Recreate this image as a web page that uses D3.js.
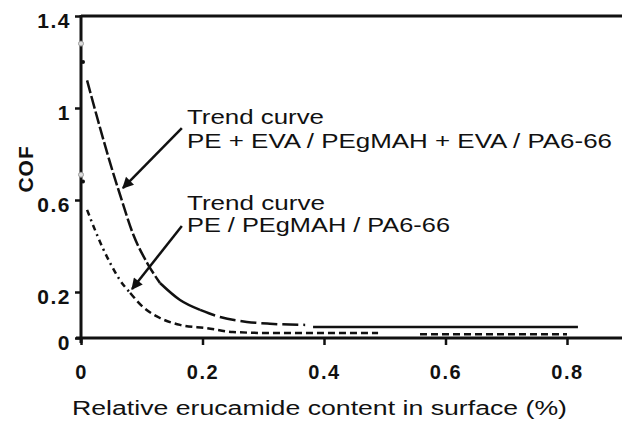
<!DOCTYPE html>
<html>
<head>
    <title>COF vs erucamide content</title>
    <script src="https://cdn.jsdelivr.net/npm/d3@7"></script>
    <style>
        body { margin: 0; background: #fff; }
        svg text { font-family: "Liberation Sans", Arial, sans-serif; fill: #111; }
    </style>
</head>
<body>
<div id="visDiv"></div>
<script>
    /* Data */
    // PE + EVA / PEgMAH + EVA / PA6-66
    var upperX = [0.01, 0.031, 0.053, 0.064, 0.086, 0.109, 0.13, 0.163, 0.196, 0.229, 0.273, 0.311, 0.369, 0.382, 0.818];
    var upperY = [1.12, 0.917, 0.717, 0.625, 0.45, 0.326, 0.239, 0.165, 0.122, 0.091, 0.07, 0.062, 0.057, 0.048, 0.048];
    // PE / PEgMAH / PA6-66 (null = gap in the curve)
    var lowerX = [0.01, 0.023, 0.035, 0.048, 0.064, 0.081, 0.102, 0.13, 0.163, 0.207, 0.25, 0.306, 0.489, null, 0.558, 0.8];
    var lowerY = [0.557, 0.47, 0.396, 0.326, 0.252, 0.196, 0.135, 0.087, 0.057, 0.043, 0.026, 0.022, 0.022, null, 0.016, 0.016];
    // small markers on the y axis
    var markGrayY = [1.28, 0.71];
    var markBlackY = [1.2, 0.68];

    var xTicks = [0, 0.2, 0.4, 0.6, 0.8];
    var xTickLabels = ["0", "0.2", "0.4", "0.6", "0.8"];
    var yTicks = [0, 0.2, 0.6, 1, 1.4];
    var yTickLabels = ["0", "0.2", "0.6", "1", "1.4"];

    var labelLines = [["Trend curve", "PE + EVA / PEgMAH + EVA / PA6-66"], ["Trend curve", "PE / PEgMAH / PA6-66"]];
    // arrows: [from x, from y, to x, to y] in data units
    var arrows = [[0.166, 0.913, 0.069, 0.652], [0.166, 0.487, 0.084, 0.213]];

    /* Layout */
    var W = 622, H = 426;
    var x = d3.scaleLinear().domain([0, 0.8]).range([81, 567]);
    var y = d3.scaleLinear().domain([0, 1.4]).range([338, 16]);

    var svg = d3.select("#visDiv").append("svg")
        .attr("width", W).attr("height", H);

    // frame: top line, y axis, x axis
    svg.append("line").attr("x1", x(0)).attr("x2", W).attr("y1", y(1.4)).attr("y2", y(1.4))
        .attr("stroke", "#111").attr("stroke-width", 3);

    var xAxis = d3.axisBottom(x).tickValues(xTicks).tickSize(7).tickPadding(20)
        .tickFormat(function (d, i) { return xTickLabels[i]; });
    var gx = svg.append("g").attr("transform", "translate(0," + y(0) + ")").call(xAxis);
    gx.select(".domain").remove();
    gx.append("line").attr("x1", x(0) - 5).attr("x2", W).attr("stroke", "#111").attr("stroke-width", 3);
    gx.selectAll(".tick line").attr("stroke", "#111").attr("stroke-width", 2.5);
    gx.selectAll(".tick text").attr("font-size", 20).attr("font-weight", "bold")
        .attr("letter-spacing", 1.5).attr("fill", "#111");

    var yAxis = d3.axisLeft(y).tickValues(yTicks).tickSize(6).tickPadding(4)
        .tickFormat(function (d, i) { return yTickLabels[i]; });
    var gy = svg.append("g").attr("transform", "translate(" + x(0) + ",0)").call(yAxis);
    gy.select(".domain").remove();
    gy.append("line").attr("y1", y(1.4) - 1).attr("y2", y(0) + 5).attr("stroke", "#111").attr("stroke-width", 3);
    gy.selectAll(".tick line").attr("stroke", "#111").attr("stroke-width", 2.5);
    gy.selectAll(".tick text").attr("font-size", 21).attr("font-weight", "bold")
        .attr("letter-spacing", 1.5).attr("dy", "0.55em").attr("fill", "#111");

    // axis titles
    svg.append("text").attr("x", 72).attr("y", 415)
        .attr("font-size", 20).attr("textLength", 495).attr("lengthAdjust", "spacingAndGlyphs")
        .text("Relative erucamide content in surface (%)");
    svg.append("text").attr("transform", "translate(33," + y(0.735) + ") rotate(-90)")
        .attr("text-anchor", "middle").attr("font-size", 21).attr("font-weight", "bold")
        .attr("letter-spacing", 1).text("COF");

    /* Curves */
    var line = d3.line()
        .defined(function (d) { return d[0] != null; })
        .x(function (d) { return x(d[0]); })
        .y(function (d) { return y(d[1]); })
        .curve(d3.curveMonotoneX);

    var upper = upperX.map(function (v, i) { return [v, upperY[i]]; });
    var lower = lowerX.map(function (v, i) { return [v, lowerY[i]]; });

    // pieces of each curve with their own dash styles: [start index, end index, dash]
    var upperPieces = [[0, 6, "13,3"], [6, 8, null], [8, 12, "16,5"], [13, 14, null]];
    var lowerPieces = [[0, 5, "6,4,2,4"], [5, 15, "7,4"]];

    function drawPieces(data, pieces) {
        pieces.forEach(function (p) {
            svg.append("path")
                .datum(data.slice(p[0], p[1] + 1))
                .attr("fill", "none").attr("stroke", "#111").attr("stroke-width", 2.5)
                .attr("stroke-dasharray", p[2])
                .attr("d", line);
        });
    }
    drawPieces(upper, upperPieces);
    drawPieces(lower, lowerPieces);

    // markers on the y axis
    svg.selectAll(".grayMark").data(markGrayY).enter().append("circle")
        .attr("cx", x(0)).attr("cy", function (d) { return y(d); }).attr("r", 2.5)
        .attr("fill", "#ddd").attr("stroke", "#999").attr("stroke-width", 1);
    svg.selectAll(".blackMark").data(markBlackY).enter().append("circle")
        .attr("cx", x(0) + 2).attr("cy", function (d) { return y(d); }).attr("r", 2)
        .attr("fill", "#111");

    /* Annotations */
    var labelX = [0.1745, 0.1745];
    var labelY = [[0.93, 0.826], [0.557, 0.461]];
    var labelLen = [[137, 425], [138, 263]];
    labelLines.forEach(function (lines, k) {
        lines.forEach(function (t, j) {
            svg.append("text").attr("x", x(labelX[k])).attr("y", y(labelY[k][j]))
                .attr("font-size", 19.5).attr("textLength", labelLen[k][j]).attr("lengthAdjust", "spacingAndGlyphs")
                .text(t);
        });
    });

    svg.append("defs").append("marker")
        .attr("id", "head").attr("viewBox", "0 0 10 10").attr("refX", 9).attr("refY", 5)
        .attr("markerWidth", 5).attr("markerHeight", 4.5).attr("orient", "auto")
        .attr("markerUnits", "strokeWidth")
        .append("path").attr("d", "M0,0 L10,5 L0,10 Z").attr("fill", "#111");

    svg.selectAll(".arrow").data(arrows).enter().append("line")
        .attr("x1", function (d) { return x(d[0]); })
        .attr("y1", function (d) { return y(d[1]); })
        .attr("x2", function (d) { return x(d[2]); })
        .attr("y2", function (d) { return y(d[3]); })
        .attr("stroke", "#111").attr("stroke-width", 2.5)
        .attr("marker-end", "url(#head)");
</script>
</body>
</html>
